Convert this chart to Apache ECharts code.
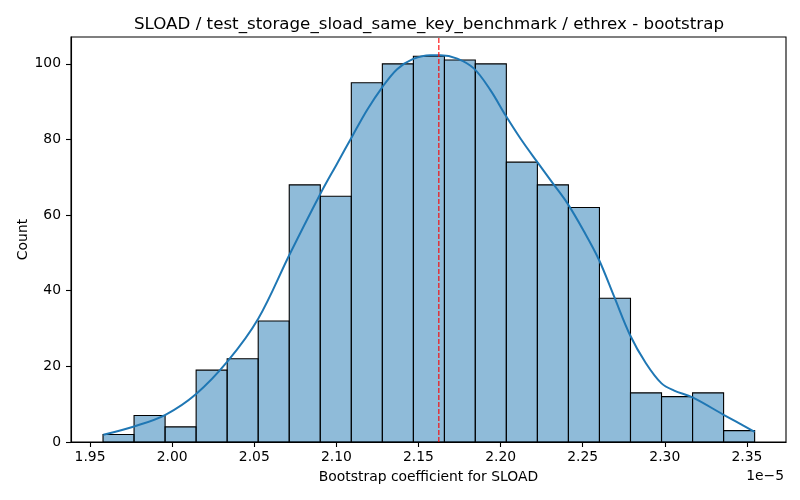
<!DOCTYPE html>
<html>
<head>
<meta charset="utf-8">
<script src="https://cdn.jsdelivr.net/npm/echarts@6/dist/echarts.min.js"></script>
<style>
  html, body { margin: 0; padding: 0; background: #fff; }
  #chart { width: 800px; height: 500px; }
</style>
</head>
<body>
<div id="chart"></div>
<script>
// histogram bins (x in units of 1e-5)
const binEdges = [
  1.9579, 1.9768, 1.9957, 2.0146, 2.0335, 2.0524, 2.0713, 2.0902, 2.1091, 2.1280, 2.1469,
  2.1658, 2.1846, 2.2035, 2.2224, 2.2413, 2.2602, 2.2791, 2.2980, 2.3169, 2.3358, 2.3547,
];
const binCounts = [2, 7, 4, 19, 22, 32, 68, 65, 95, 100, 102, 101, 100, 74, 68, 62, 38, 13, 12, 13, 3];

// kde curve
const kdeX = [
  1.9581, 1.9768, 1.9959, 2.0146, 2.0337, 2.0524, 2.0715, 2.0902, 2.1004, 2.1096,
  2.1187, 2.1279, 2.1370, 2.1468, 2.1573, 2.1634, 2.1736, 2.1837, 2.1939, 2.2030, 2.2122,
  2.2224, 2.2315, 2.2407, 2.2509, 2.2599, 2.2691, 2.2788, 2.2884, 2.2980, 2.3057, 2.3169,
  2.3358, 2.3547,
];
const kdeY = [
  1.9, 4.1, 7.2, 12.7, 21.3, 32.6, 49.6, 65.6, 73.6, 80.8,
  87.8, 93.8, 98.6, 101.3, 102.3, 102.3, 101.4, 98.8, 93.0, 86.4, 80.2,
  74.0, 68.6, 63.1, 55.6, 48.2, 38.5, 28.3, 20.9, 15.5, 13.6, 11.8,
  7.2, 2.7,
];

const meanValue = 2.1624;
const xTicks = [1.95, 2.0, 2.05, 2.1, 2.15, 2.2, 2.25, 2.3, 2.35];
const yTicks = [0, 20, 40, 60, 80, 100];
const yMax = 107.1;

const chart = echarts.init(document.getElementById("chart"));
const font = "DejaVu Sans";

const histData = binCounts.map((count, i) => [binEdges[i], binEdges[i + 1], count]);
const kdeData = kdeX.map((x, i) => [x, kdeY[i]]);

function renderBin(params, api) {
  const topLeft = api.coord([api.value(0), api.value(2)]);
  const bottomRight = api.coord([api.value(1), 0]);
  return {
    type: "rect",
    shape: {
      x: topLeft[0],
      y: topLeft[1],
      width: bottomRight[0] - topLeft[0],
      height: bottomRight[1] - topLeft[1],
    },
    style: {
      fill: "rgba(31, 119, 180, 0.5)",
      stroke: "#000",
      lineWidth: 1.1,
    },
  };
}

chart.setOption({
  animation: false,
  textStyle: { fontFamily: font },
  title: {
    text: "SLOAD / test_storage_sload_same_key_benchmark / ethrex - bootstrap",
    left: 424,
    top: 11,
    textAlign: "center",
    textStyle: { fontFamily: font, fontSize: 16.7, fontWeight: "normal", color: "#000" },
  },
  grid: {
    left: 71,
    right: 14,
    top: 37,
    bottom: 58,
    show: true,
    borderColor: "#000",
    borderWidth: 1.1,
  },
  xAxis: {
    type: "value",
    min: 1.9384,
    max: 2.3738,
    name: "Bootstrap coefficient for SLOAD",
    nameLocation: "middle",
    nameGap: 28,
    nameMoveOverlap: false,
    nameTextStyle: { fontFamily: font, fontSize: 13.9, color: "#000" },
    axisLine: { show: true, onZero: false, lineStyle: { color: "#000", width: 1.1 } },
    axisTick: { show: true, length: 5, lineStyle: { color: "#000", width: 1.1 }, customValues: xTicks },
    axisLabel: {
      fontFamily: font,
      fontSize: 13.9,
      color: "#000",
      margin: 8,
      customValues: xTicks,
      formatter: (v) => v.toFixed(2),
    },
    splitLine: { show: false },
  },
  yAxis: {
    type: "value",
    min: 0,
    max: yMax,
    name: "Count",
    nameLocation: "middle",
    nameGap: 41,
    nameMoveOverlap: false,
    nameTextStyle: { fontFamily: font, fontSize: 13.9, color: "#000" },
    axisLine: { show: true, lineStyle: { color: "#000", width: 1.1 } },
    axisTick: { show: true, length: 5, lineStyle: { color: "#000", width: 1.1 }, customValues: yTicks },
    axisLabel: {
      fontFamily: font,
      fontSize: 13.9,
      color: "#000",
      margin: 10,
      customValues: yTicks,
    },
    splitLine: { show: false },
  },
  graphic: [
    {
      type: "text",
      right: 16,
      top: 469,
      style: { text: "1e\u22125", font: `13.9px "${font}"`, fill: "#000" },
    },
  ],
  series: [
    {
      type: "custom",
      renderItem: renderBin,
      data: histData,
      encode: { x: [0, 1], y: 2 },
      z: 2,
    },
    {
      type: "line",
      data: kdeData,
      smooth: 0.35,
      showSymbol: false,
      lineStyle: { color: "#1f77b4", width: 2 },
      z: 3,
    },
    {
      // mean marker
      type: "line",
      data: [[meanValue, 0], [meanValue, yMax]],
      showSymbol: false,
      lineStyle: { color: "#ff0000", width: 1.1, type: [5, 2] },
      z: 4,
    },
  ],
});
</script>
</body>
</html>
